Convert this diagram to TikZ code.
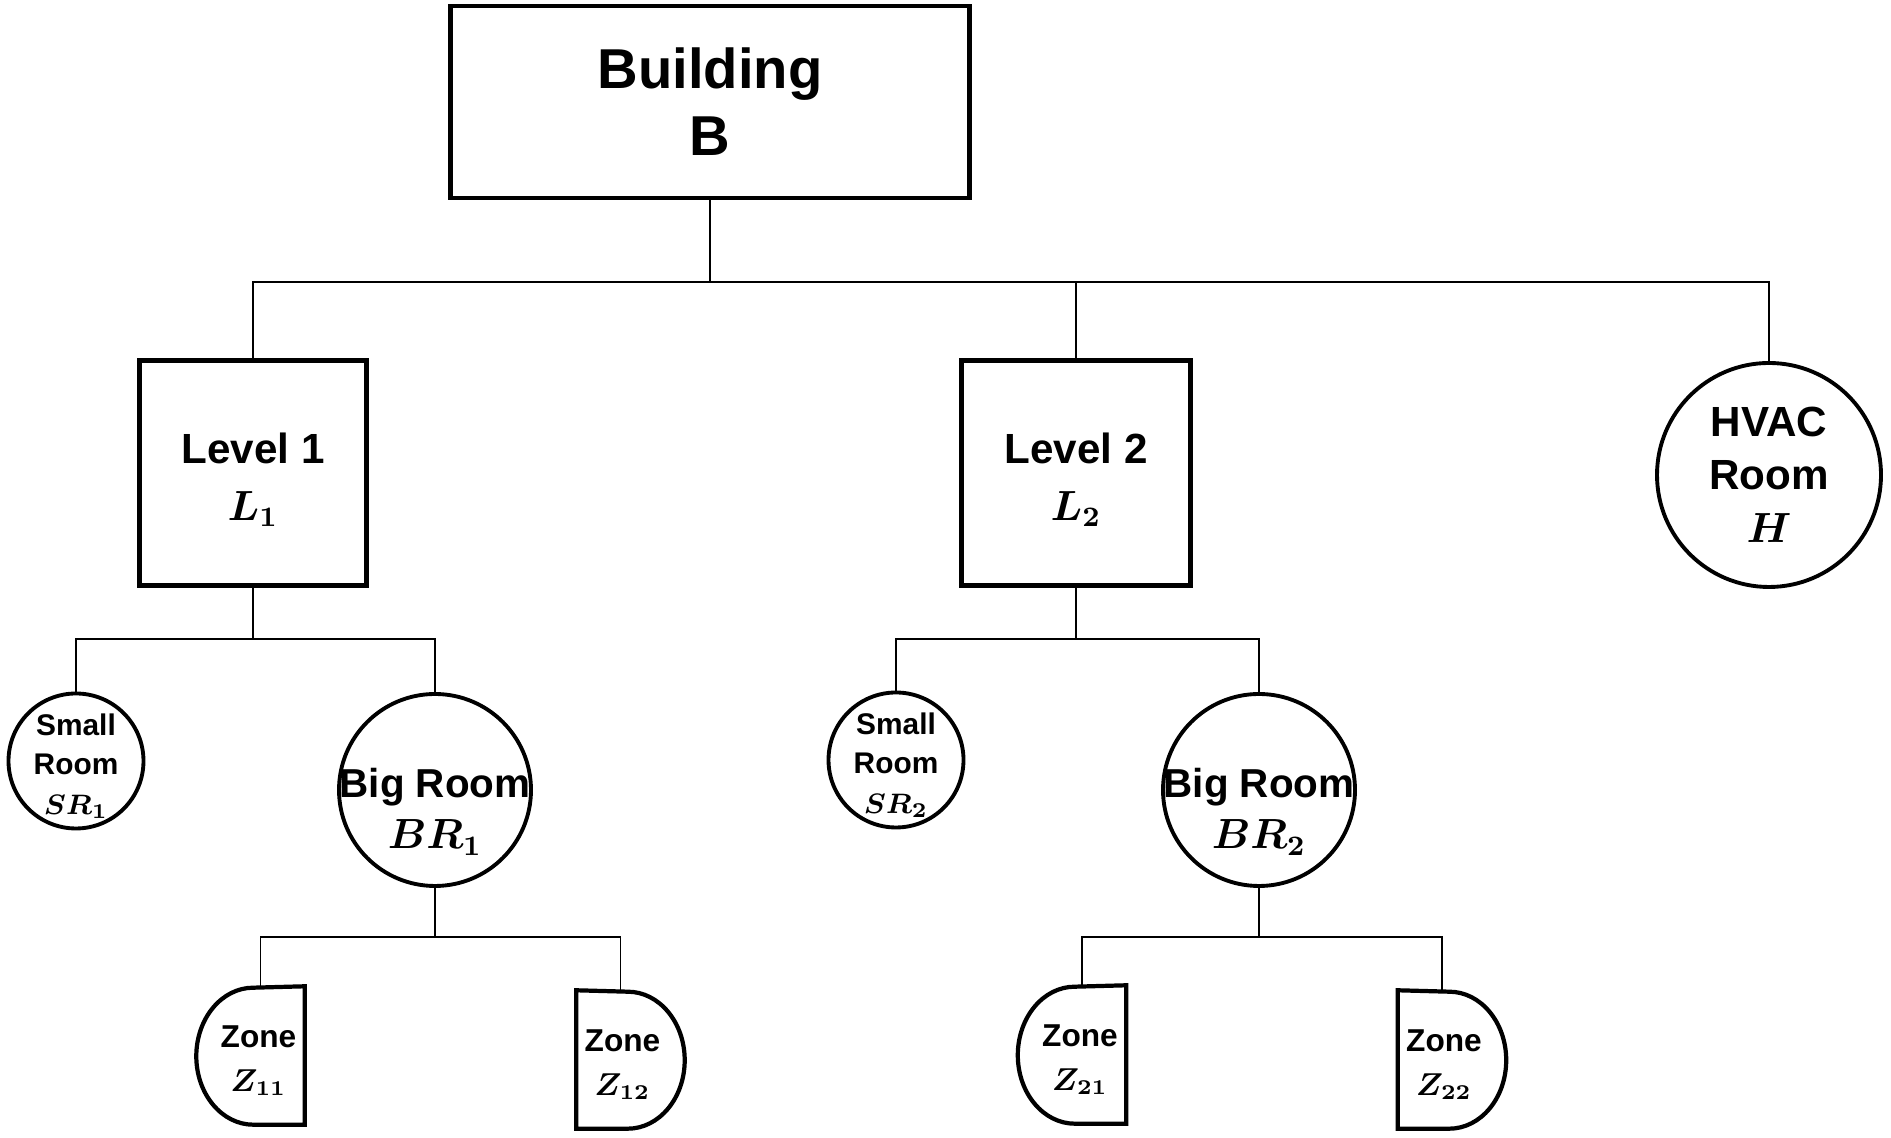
\documentclass[tikz,border=0pt]{standalone}
\usepackage{amsmath}
\usepackage{bm}
\usepackage{fontspec}
\setmainfont{Liberation Sans}
\usepackage{tikz}
\newcommand{\zoneleft}[1]{\draw[zoneline] (#1.north east) -- (#1.south east) -- ([xshift=0.57cm]#1.south west) arc[start angle=-90, end angle=-270, x radius=0.57cm, y radius=0.685cm] -- cycle;}
\newcommand{\zoneright}[1]{\draw[zoneline] (#1.north west) -- (#1.south west) -- ([xshift=-0.57cm]#1.south east) arc[start angle=-90, end angle=90, x radius=0.57cm, y radius=0.685cm] -- cycle;}

\begin{document}
\begin{tikzpicture}[
  boxnode/.style={draw, line width=1.2pt, align=center, inner sep=0pt},
  roomnode/.style={circle, draw, line width=1.1pt, inner sep=0pt},
  roomtext/.style={align=center, inner sep=0pt},
  zonenode/.style={inner sep=0pt, minimum width=1.07cm, minimum height=1.37cm},
  zonetext/.style={align=center, inner sep=0pt, yshift=-0.05cm, font=\fontsize{9}{12.7}\selectfont\bfseries},
  zoneline/.style={line width=1.2pt, line join=miter},
  link/.style={line width=0.4pt}
]
\useasboundingbox (0,0) rectangle (18.91,11.38);

\node[boxnode, minimum width=5.19cm, minimum height=1.92cm, font=\fontsize{16}{19}\selectfont\bfseries] (bldg) at (7.10,10.36) {Building\\B};
\node[boxnode, minimum width=2.27cm, minimum height=2.25cm, label={[roomtext, yshift=-0.07cm, font=\fontsize{12}{16}\selectfont\bfseries]center:Level 1\\$\bm{L_1}$}] (lvl1) at (2.53,6.65) {};
\node[boxnode, minimum width=2.29cm, minimum height=2.25cm, label={[roomtext, yshift=-0.07cm, font=\fontsize{12}{16}\selectfont\bfseries]center:Level 2\\$\bm{L_2}$}] (lvl2) at (10.76,6.65) {};
\node[roomnode, minimum size=2.24cm, label={[roomtext, font=\fontsize{12}{15}\selectfont\bfseries]center:HVAC\\Room\\$\bm{H}$}] (hvac) at (17.69,6.63) {};

\node[roomnode, minimum size=1.35cm, label={[roomtext, yshift=-0.05cm, font=\fontsize{8.5}{11.3}\selectfont\bfseries]center:Small\\Room\\$\bm{SR_1}$}] (sr1) at (0.76,3.77) {};
\node[roomnode, minimum size=1.92cm, label={[roomtext, yshift=-0.22cm, font=\fontsize{11.5}{14.5}\selectfont\bfseries]center:Big Room\\$\bm{BR_1}$}] (br1) at (4.35,3.48) {};
\node[roomnode, minimum size=1.35cm, label={[roomtext, yshift=-0.05cm, font=\fontsize{8.5}{11.3}\selectfont\bfseries]center:Small\\Room\\$\bm{SR_2}$}] (sr2) at (8.96,3.78) {};
\node[roomnode, minimum size=1.92cm, label={[roomtext, yshift=-0.22cm, font=\fontsize{11.5}{14.5}\selectfont\bfseries]center:Big Room\\$\bm{BR_2}$}] (br2) at (12.59,3.48) {};

\node[zonenode, label={[zonetext, xshift=0.08cm]center:Zone\\$\bm{Z_{11}}$}] (z11) at (2.505,0.825) {};
\node[zonenode, label={[zonetext, xshift=-0.08cm]center:Zone\\$\bm{Z_{12}}$}] (z12) at (6.305,0.785) {};
\node[zonenode, label={[zonetext, xshift=0.08cm]center:Zone\\$\bm{Z_{21}}$}] (z21) at (10.72,0.835) {};
\node[zonenode, label={[zonetext, xshift=-0.08cm]center:Zone\\$\bm{Z_{22}}$}] (z22) at (14.52,0.785) {};
\zoneleft{z11}
\zoneright{z12}
\zoneleft{z21}
\zoneright{z22}

\coordinate (bj) at (7.10,8.56);
\draw[link] (bldg.south) -- (bj);
\draw[link] (lvl1.north) -- (lvl1.north |- bj) -- (hvac.north |- bj) -- (hvac.north);
\draw[link] (lvl2.north) -- (lvl2.north |- bj);

\coordinate (l1j) at (2.53,4.99);
\draw[link] (lvl1.south) -- (l1j);
\draw[link] (sr1.north) -- (sr1.north |- l1j) -- (br1.north |- l1j) -- (br1.north);
\coordinate (l2j) at (10.76,4.99);
\draw[link] (lvl2.south) -- (l2j);
\draw[link] (sr2.north) -- (sr2.north |- l2j) -- (br2.north |- l2j) -- (br2.north);

\coordinate (z11c) at ([xshift=0.1cm]z11.north);
\coordinate (z12c) at ([xshift=-0.1cm]z12.north);
\coordinate (z21c) at ([xshift=0.1cm]z21.north);
\coordinate (z22c) at ([xshift=-0.1cm]z22.north);
\coordinate (b1j) at (4.35,2.01);
\draw[link] (br1.south) -- (b1j);
\draw[link] (z11c) -- (z11c |- b1j) -- (z12c |- b1j) -- (z12c);
\coordinate (b2j) at (12.59,2.01);
\draw[link] (br2.south) -- (b2j);
\draw[link] (z21c) -- (z21c |- b2j) -- (z22c |- b2j) -- (z22c);
\end{tikzpicture}
\end{document}
